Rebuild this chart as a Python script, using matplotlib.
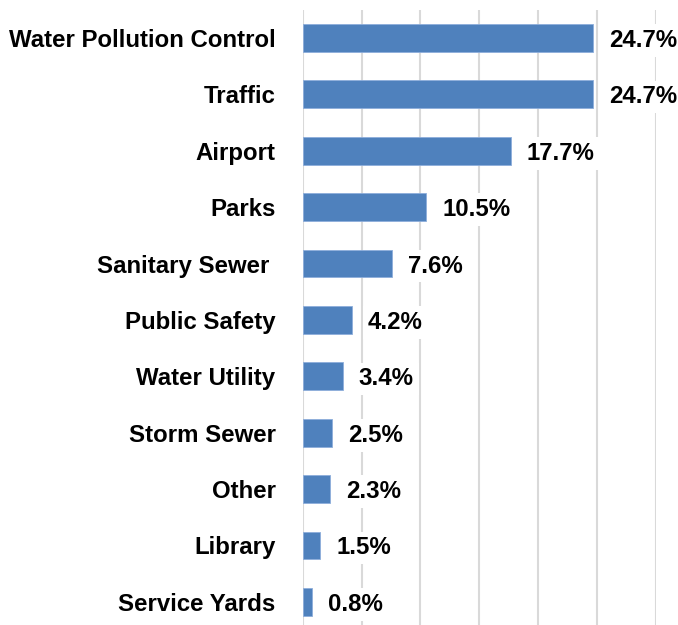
import matplotlib
matplotlib.use("Agg")
import matplotlib.pyplot as plt

categories = ["Water Pollution Control", "Traffic", "Airport", "Parks", "Sanitary Sewer ",
              "Public Safety", "Water Utility", "Storm Sewer", "Other", "Library", "Service Yards"]
values = [24.7, 24.7, 17.7, 10.5, 7.6, 4.2, 3.4, 2.5, 2.3, 1.5, 0.8]
labels = ["24.7%", "24.7%", "17.7%", "10.5%", "7.6%", "4.2%", "3.4%", "2.5%", "2.3%", "1.5%", "0.8%"]

plt.rcParams['font.family'] = ['Liberation Sans', 'DejaVu Sans']

fig = plt.figure(figsize=(6.78, 6.25), dpi=100)
W, H = 678, 625
left, right, top, bottom = 302.7, 655.7, 9.5, 625
ax = fig.add_axes([left / W, 1 - bottom / H, (right - left) / W, (bottom - top) / H])

y = list(range(len(categories)))
ax.barh(y, values, height=0.495, color="#4F81BD", edgecolor="#8EAEDB", linewidth=0.6, zorder=2)

ax.set_xlim(0, 30)
ax.set_ylim(10.41, -0.505)
ax.set_xticks([0, 5, 10, 15, 20, 25, 30])
ax.xaxis.grid(True, color="#D9D9D9", linewidth=1.5, zorder=0)
ax.set_axisbelow(True)
ax.tick_params(axis='x', bottom=False, labelbottom=False)
ax.tick_params(axis='y', left=False, pad=16)
ax.set_yticks(y)
ax.set_yticklabels(categories, fontsize=17.3, fontweight='bold', color='black')
for lbl in ax.get_yticklabels():
    lbl.set_verticalalignment('center_baseline')
for s in ax.spines.values():
    s.set_visible(False)

for yi, v, lab in zip(y, values, labels):
    ax.annotate(lab, xy=(v, yi), xytext=(16, 0), textcoords='offset pixels',
                ha='left', va='center_baseline', fontsize=17.3, fontweight='bold', color='black',
                bbox=dict(boxstyle='square,pad=0.2', facecolor='white', edgecolor='none'),
                zorder=3, clip_on=False)

fig.savefig("out.png", dpi=100)
